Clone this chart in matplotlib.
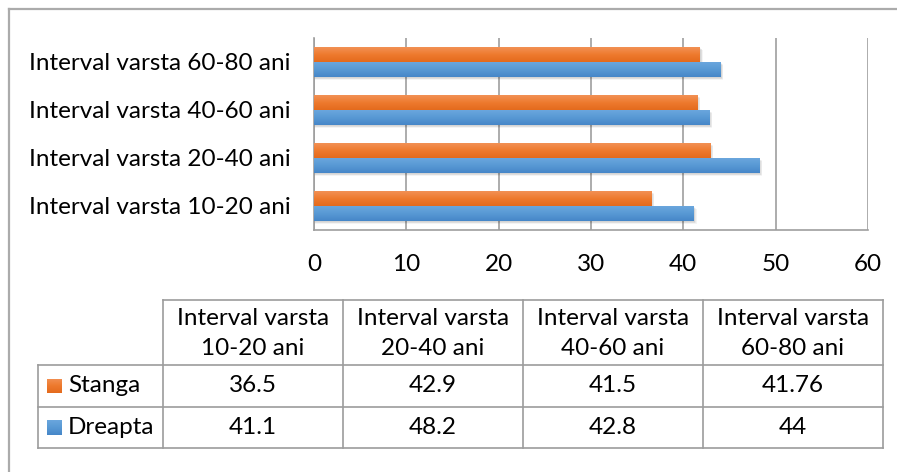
import numpy as np
import matplotlib
matplotlib.use("Agg")
import matplotlib.pyplot as plt
from matplotlib.patches import Rectangle
from matplotlib.colors import LinearSegmentedColormap

plt.rcParams['font.family'] = ['Lato', 'DejaVu Sans']

# ---- data ----
categories = ["Interval varsta 10-20 ani", "Interval varsta 20-40 ani",
              "Interval varsta 40-60 ani", "Interval varsta 60-80 ani"]
header_labels = ["Interval varsta\n10-20 ani", "Interval varsta\n20-40 ani",
                 "Interval varsta\n40-60 ani", "Interval varsta\n60-80 ani"]
series_names = ["Stanga", "Dreapta"]
stanga = [36.5, 42.9, 41.5, 41.76]
dreapta = [41.1, 48.2, 42.8, 44]
table_text = [["36.5", "42.9", "41.5", "41.76"],
              ["41.1", "48.2", "42.8", "44"]]
x_ticks = [0, 10, 20, 30, 40, 50, 60]

W, H = 897, 472
FS = 17.5
fig = plt.figure(figsize=(W / 100, H / 100), dpi=100)
fig.patch.set_facecolor("white")

def fx(px):
    return px / W

def fy(py):
    return 1 - py / H

orange_cmap = LinearSegmentedColormap.from_list("o", ["#F29155", "#EE7A2E", "#E46B1D"])
blue_cmap = LinearSegmentedColormap.from_list("b", ["#6AA6DD", "#5899D4", "#4686C8"])

# ---- bar chart ----
ax = fig.add_axes([fx(314), fy(230), fx(868) - fx(314), fy(38) - fy(230)])
ax.set_xlim(0, 60)
ax.set_ylim(-0.5, 3.5)
bh = 0.31
y = np.arange(len(categories))

grad = np.linspace(0, 1, 64).reshape(-1, 1)

def draw_bar(x0, yc, width, cmap, z):
    y0 = yc - bh / 2
    # soft drop shadow
    for k in range(1, 6):
        sh = Rectangle((x0, y0 - k * 0.012), width + k * 0.07, bh,
                       facecolor="black", alpha=0.045, edgecolor="none", zorder=z - 1)
        ax.add_patch(sh)
    rect = Rectangle((x0, y0), width, bh, facecolor="none", edgecolor="none", zorder=z)
    ax.add_patch(rect)
    im = ax.imshow(grad, cmap=cmap, aspect="auto",
                   extent=(x0, x0 + width, y0, y0 + bh), origin="upper", zorder=z)
    im.set_clip_path(rect)

ys = [yc + bh / 2 for yc in y]
yd = [yc - bh / 2 for yc in y]
for i in range(len(categories)):
    draw_bar(0, ys[i], stanga[i], orange_cmap, 3)
    draw_bar(0, yd[i], dreapta[i], blue_cmap, 3)

ax.set_xlim(0, 60)
ax.set_ylim(-0.5, 3.5)
ax.set_xticks(x_ticks)
ax.set_xticklabels([str(t) for t in x_ticks], fontsize=FS)
ax.set_yticks(y)
ax.set_yticklabels(categories, fontsize=FS)
ax.tick_params(axis="y", length=0, pad=17)
ax.tick_params(axis="x", length=0, pad=17)
ax.xaxis.grid(True, color="#9E9E9E", linewidth=1.2)
ax.set_axisbelow(True)
for s in ["top", "right"]:
    ax.spines[s].set_visible(False)
ax.spines["left"].set_color("#9E9E9E")
ax.spines["bottom"].set_color("#9E9E9E")
ax.spines["left"].set_linewidth(1.2)
ax.spines["bottom"].set_linewidth(1.2)

# ---- overlay for frame and data table ----
ov = fig.add_axes([0, 0, 1, 1], zorder=5)
ov.set_xlim(0, W)
ov.set_ylim(H, 0)
ov.axis("off")

frame_c = "#ABABAB"
ov.plot([8.5, 8.5], [8.5, H], color=frame_c, lw=1.6)
ov.plot([8.5, W], [8.5, 8.5], color=frame_c, lw=1.6)

col_x = [38, 163, 343, 523, 703, 883]
row_y = [300, 365, 407, 448]
line_c = "#9C9C9C"
lw = 1.2
# header row lines
ov.plot([col_x[1], col_x[-1]], [row_y[0], row_y[0]], color=line_c, lw=lw)
for cx in col_x[1:]:
    ov.plot([cx, cx], [row_y[0], row_y[-1]], color=line_c, lw=lw)
for ry in row_y[1:]:
    ov.plot([col_x[0], col_x[-1]], [ry, ry], color=line_c, lw=lw)
ov.plot([col_x[0], col_x[0]], [row_y[1], row_y[-1]], color=line_c, lw=lw)

for j, lab in enumerate(header_labels):
    cx = (col_x[j + 1] + col_x[j + 2]) / 2
    ov.text(cx, (row_y[0] + row_y[1]) / 2 + 1, lab, ha="center", va="center",
            fontsize=FS, linespacing=1.5)

cmaps = [orange_cmap, blue_cmap]
for r, name in enumerate(series_names):
    cy = (row_y[r + 1] + row_y[r + 2]) / 2
    kx0, ks = 47, 15
    key = Rectangle((kx0, cy - ks / 2), ks, ks, facecolor="none", edgecolor="none")
    ov.add_patch(key)
    im = ov.imshow(grad, cmap=cmaps[r], aspect="auto",
                   extent=(kx0, kx0 + ks, cy + ks / 2, cy - ks / 2), origin="upper")
    im.set_clip_path(key)
    ov.text(68, cy, name, ha="left", va="center", fontsize=FS)
    for j, val in enumerate(table_text[r]):
        cx = (col_x[j + 1] + col_x[j + 2]) / 2
        ov.text(cx, cy, val, ha="center", va="center", fontsize=FS)

ov.set_xlim(0, W)
ov.set_ylim(H, 0)

fig.savefig("out.png", dpi=100)
